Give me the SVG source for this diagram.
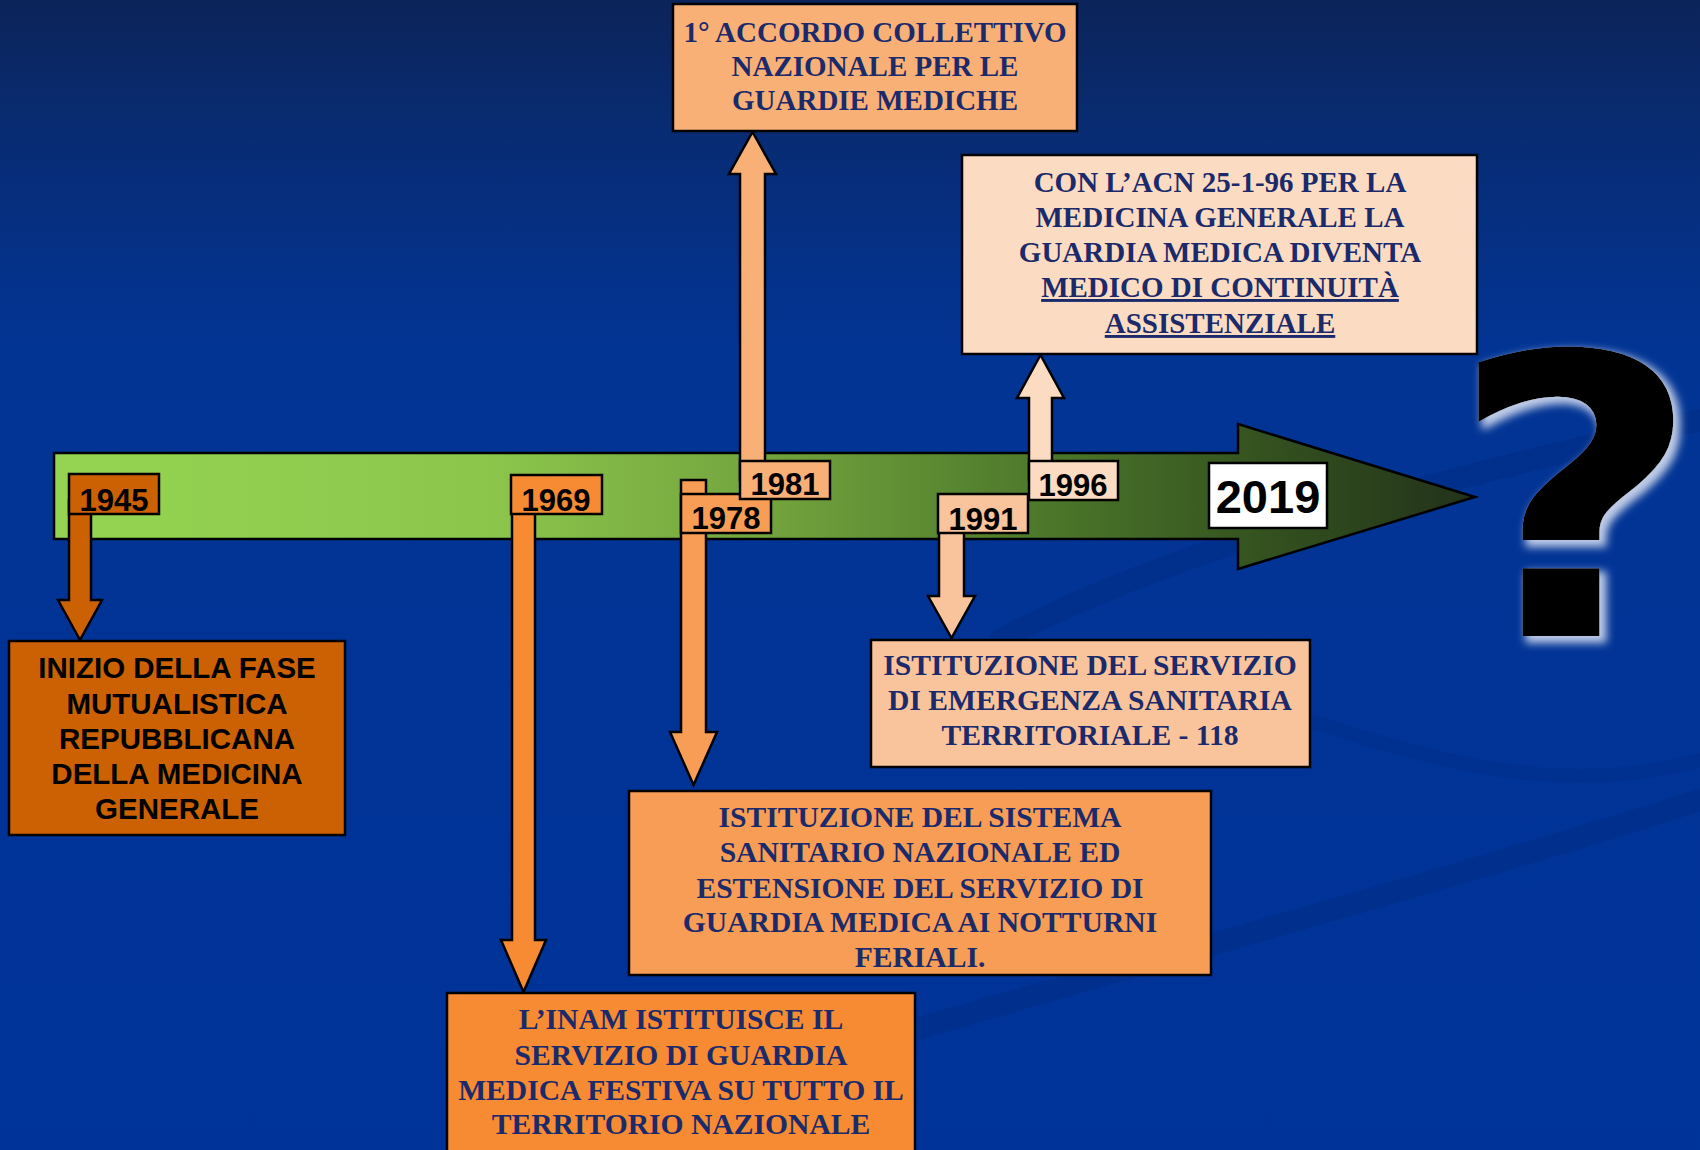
<svg xmlns="http://www.w3.org/2000/svg" width="1700" height="1150" viewBox="0 0 1700 1150">
<defs>
<linearGradient id="bg" x1="0" y1="0" x2="0" y2="1">
<stop offset="0" stop-color="#0c2459"/>
<stop offset="0.12" stop-color="#082c74"/>
<stop offset="0.3" stop-color="#023494"/>
<stop offset="1" stop-color="#003399"/>
</linearGradient>
<linearGradient id="tl" gradientUnits="userSpaceOnUse" x1="54" y1="0" x2="1475" y2="0">
<stop offset="0" stop-color="#95d452"/>
<stop offset="0.3" stop-color="#8cc74c"/>
<stop offset="0.5" stop-color="#73a43e"/>
<stop offset="0.7" stop-color="#4c772a"/>
<stop offset="0.85" stop-color="#34521f"/>
<stop offset="1" stop-color="#22321a"/>
</linearGradient>
<filter id="glow" filterUnits="userSpaceOnUse" x="1420" y="300" width="280" height="370">
<feMorphology in="SourceAlpha" operator="dilate" radius="2" result="d"/>
<feGaussianBlur in="d" stdDeviation="4" result="b"/>
<feOffset in="b" dx="5" dy="5" result="o"/>
<feFlood flood-color="#e2e8f6" flood-opacity="0.85"/>
<feComposite in2="o" operator="in" result="g"/>
<feMerge><feMergeNode in="g"/><feMergeNode in="SourceGraphic"/></feMerge>
</filter>
<style>
.box{stroke:#000;stroke-width:2.5}
.arr{stroke:#000;stroke-width:2.5;stroke-linejoin:miter}
.yr{font-family:"Liberation Sans",Arial,sans-serif;font-weight:bold;font-size:31px;fill:#000;text-anchor:middle}
.ds{font-family:"Liberation Serif","Times New Roman",serif;font-weight:bold;font-size:29.6px;fill:#1b2a6b;text-anchor:middle}
.dsans{font-family:"Liberation Sans",Arial,sans-serif;font-weight:bold;font-size:29.5px;fill:#000;text-anchor:middle}
.c45{fill:#cc6104}
.c69{fill:#f68b33}
.c78{fill:#f79d55}
.c81{fill:#f9b077}
.c91{fill:#f9c49b}
.c96{fill:#fbdcc2}
</style>
</defs>
<rect width="1700" height="1150" fill="url(#bg)"/>
<g id="background-swooshes" fill="none" stroke-linecap="round">
<path d="M1000 640 C 1150 560, 1350 500, 1700 420" stroke="#002a80" stroke-opacity="0.45" stroke-width="22"/>
<path d="M1250 700 C 1420 760, 1560 800, 1700 760" stroke="#002a80" stroke-opacity="0.3" stroke-width="14"/>
<path d="M880 1040 C 1150 960, 1450 880, 1700 800" stroke="#002a80" stroke-opacity="0.4" stroke-width="22"/>
</g>
<g id="timeline">
<polygon points="54,453 1238,453 1238,424 1475,497 1238,569 1238,539 54,539" fill="url(#tl)" stroke="#000" stroke-width="2.5"/>
</g>
<g id="question-mark" filter="url(#glow)">
<text transform="translate(1575,636) scale(1.12,1)" x="0" y="0" font-family="'DejaVu Sans',sans-serif" font-weight="bold" font-size="390" text-anchor="middle" fill="#000">?</text>
</g>
<g id="connectors">
<polygon class="arr c45" points="69,500 91,500 91,600 102,600 80,640 58,600 69,600"/>
<polygon class="arr c69" points="512,500 535,500 535,940 546,940 523.5,992 501,940 512,940"/>
<polygon class="arr c78" points="681,480 706,480 706,732 717,732 693.5,785 670,732 681,732"/>
<polygon class="arr c81" points="740,480 765,480 765,174 776,174 752.5,132 729,174 740,174"/>
<polygon class="arr c91" points="939,520 964,520 964,596 975,596 951.5,638 928,596 939,596"/>
<polygon class="arr c96" points="1029,480 1052,480 1052,398 1064,398 1040.5,355 1017,398 1029,398"/>
</g>
<g id="year-1945"><rect class="box c45" x="69" y="474" width="90" height="40"/><text class="yr" x="114" y="511">1945</text></g>
<g id="year-1969"><rect class="box c69" x="511" y="475" width="91" height="39"/><text class="yr" x="556" y="511">1969</text></g>
<g id="year-1978"><rect class="box c78" x="681" y="494" width="90" height="39"/><text class="yr" x="726" y="529">1978</text></g>
<g id="year-1981"><rect class="box c81" x="740" y="461" width="90" height="38"/><text class="yr" x="785" y="495">1981</text></g>
<g id="year-1991"><rect class="box c91" x="938" y="494" width="90" height="39"/><text class="yr" x="983" y="530">1991</text></g>
<g id="year-1996"><rect class="box c96" x="1029" y="461" width="89" height="39"/><text class="yr" x="1073" y="496">1996</text></g>
<g id="year-2019"><rect class="box" fill="#fff" x="1209" y="463" width="118" height="65"/><text class="yr" style="font-size:47px" x="1268" y="513">2019</text></g>
<g id="event-1945">
<rect class="box c45" x="9" y="641" width="336" height="194"/>
<text class="dsans"><tspan x="177" y="678">INIZIO DELLA FASE</tspan><tspan x="177" y="714">MUTUALISTICA</tspan><tspan x="177" y="749">REPUBBLICANA</tspan><tspan x="177" y="784">DELLA MEDICINA</tspan><tspan x="177" y="819">GENERALE</tspan></text>
</g>
<g id="event-1969">
<rect class="box c69" x="447" y="993" width="468" height="170"/>
<text class="ds"><tspan x="681" y="1029">L’INAM ISTITUISCE IL</tspan><tspan x="681" y="1065">SERVIZIO DI GUARDIA</tspan><tspan x="681" y="1100">MEDICA FESTIVA SU TUTTO IL</tspan><tspan x="681" y="1134">TERRITORIO NAZIONALE</tspan></text>
</g>
<g id="event-1978">
<rect class="box c78" x="629" y="791" width="582" height="184"/>
<text class="ds"><tspan x="920" y="827">ISTITUZIONE DEL SISTEMA</tspan><tspan x="920" y="862">SANITARIO NAZIONALE ED</tspan><tspan x="920" y="898">ESTENSIONE DEL SERVIZIO DI</tspan><tspan x="920" y="932">GUARDIA MEDICA AI NOTTURNI</tspan><tspan x="920" y="967">FERIALI.</tspan></text>
</g>
<g id="event-1981">
<rect class="box c81" x="673" y="4" width="404" height="127"/>
<text class="ds" style="font-size:29px"><tspan x="875" y="42">1° ACCORDO COLLETTIVO</tspan><tspan x="875" y="76">NAZIONALE PER LE</tspan><tspan x="875" y="110">GUARDIE MEDICHE</tspan></text>
</g>
<g id="event-1991">
<rect class="box c91" x="871" y="640" width="439" height="127"/>
<text class="ds"><tspan x="1090" y="675">ISTITUZIONE DEL SERVIZIO</tspan><tspan x="1090" y="710">DI EMERGENZA SANITARIA</tspan><tspan x="1090" y="745">TERRITORIALE - 118</tspan></text>
</g>
<g id="event-1996">
<rect class="box c96" x="962" y="155" width="515" height="199"/>
<text class="ds" style="font-size:29px"><tspan x="1220" y="192">CON L’ACN 25-1-96 PER LA</tspan><tspan x="1220" y="227">MEDICINA GENERALE LA</tspan><tspan x="1220" y="262">GUARDIA MEDICA DIVENTA</tspan><tspan x="1220" y="297" text-decoration="underline">MEDICO DI CONTINUITÀ</tspan><tspan x="1220" y="333" text-decoration="underline">ASSISTENZIALE</tspan></text>
</g>
</svg>
